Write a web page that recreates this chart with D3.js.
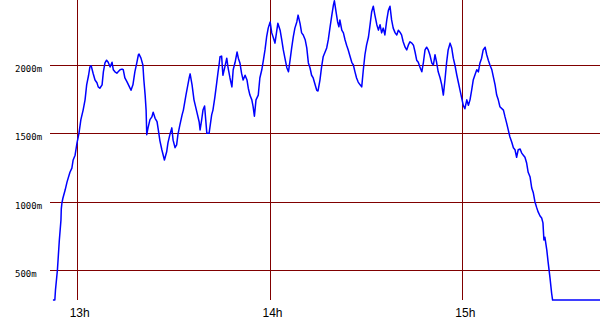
<!DOCTYPE html>
<html><head><meta charset="utf-8">
<script src="https://cdn.jsdelivr.net/npm/d3@7/dist/d3.min.js"></script>
<style>html,body{margin:0;padding:0;background:#fff;}svg{display:block;}</style>
</head><body>
<svg id="c" width="600" height="330"></svg>
<script>
// time in minutes after 12:00, elevation in metres
const times = [52.6,53.2,53.4,54.0,54.6,55.1,55.2,55.4,55.7,56.4,57.0,57.9,58.5,58.9,59.5,60.1,60.7,61.3,62.0,62.6,63.1,63.7,64.1,64.5,65.1,65.7,66.3,66.7,67.2,67.9,68.3,68.8,69.3,69.8,70.4,71.0,71.4,71.9,72.5,72.9,73.5,74.1,74.5,75.0,75.7,76.3,76.9,77.5,78.1,78.7,79.2,79.4,80.0,80.6,80.9,81.3,81.6,81.8,82.2,82.8,83.4,83.8,84.4,85.0,85.4,85.9,86.5,87.3,88.0,88.4,89.0,89.6,90.0,90.6,91.1,91.5,92.1,92.8,93.2,94.0,95.0,95.3,95.9,96.5,97.4,98.1,98.4,98.9,99.3,99.8,100.5,101.2,102.0,102.4,103.0,103.6,104.0,104.3,104.6,105.1,105.5,106.2,106.7,107.1,107.7,108.3,108.7,109.3,109.9,110.3,110.8,111.3,111.8,112.4,113.0,113.4,113.9,114.5,114.9,115.3,115.8,116.5,117.0,117.6,118.1,118.6,119.1,119.6,120.2,120.7,121.2,121.7,122.2,122.6,123.3,123.8,124.3,124.8,125.4,125.9,126.4,126.9,127.4,127.9,128.5,128.9,129.5,130.0,130.5,131.1,131.6,132.1,132.6,133.1,133.6,134.2,134.7,135.1,135.7,136.2,136.7,137.3,137.8,138.3,138.8,139.4,139.9,140.2,140.7,141.2,141.6,141.9,142.5,143.0,143.5,144.0,144.5,145.1,145.6,146.1,146.6,147.1,147.6,148.2,148.7,149.2,149.7,150.2,150.8,151.3,151.8,152.3,152.8,153.4,153.9,154.4,154.9,155.4,155.9,156.5,157.0,157.5,158.0,158.5,159.1,159.6,160.1,160.6,161.1,161.6,162.2,162.7,163.2,163.7,164.3,164.8,165.3,165.8,166.3,166.8,167.4,167.9,168.4,168.9,169.4,169.9,170.5,171.0,171.5,172.0,172.5,173.1,173.6,174.1,174.6,175.1,175.6,176.2,176.7,177.2,177.7,178.3,178.8,179.3,179.8,180.3,180.8,181.4,181.9,182.4,182.9,183.4,183.9,184.5,185.0,185.5,186.0,186.5,187.1,187.6,188.1,188.6,189.2,189.7,190.2,190.7,191.2,191.7,192.8,193.3,193.8,194.3,194.8,195.4,195.9,196.4,196.9,197.4,198.0,198.5,199.0,199.5,200.0,200.5,201.1,201.6,202.1,202.6,203.1,203.6,204.2,204.7,205.1,205.4,205.7,206.3,206.7,207.3,207.8,208.1,222.9];
const elevation = [280,280,355,500,720,865,945,990,1025,1085,1145,1215,1245,1305,1340,1430,1500,1600,1670,1745,1855,1925,1985,1995,1940,1890,1870,1840,1830,1855,1950,2015,2035,2020,1985,2020,1965,1950,1940,1950,1965,1970,1965,1905,1875,1845,1815,1855,1950,2015,2075,2080,2050,2000,1890,1780,1670,1490,1540,1600,1620,1655,1610,1585,1525,1445,1380,1305,1365,1430,1490,1540,1450,1395,1415,1490,1560,1635,1670,1780,1905,1935,1855,1745,1655,1585,1525,1600,1670,1700,1500,1500,1635,1670,1765,1875,1950,2000,2060,2065,1925,1995,2050,1980,1905,1840,1965,2020,2095,2050,2015,1940,1890,1925,1890,1830,1780,1745,1695,1625,1745,1780,1905,1965,2035,2110,2205,2270,2315,2235,2200,2160,2240,2305,2255,2185,2110,2050,1980,1950,2035,2125,2205,2270,2315,2365,2305,2235,2220,2185,2125,2015,1980,1925,1905,1855,1815,1810,1890,1985,2060,2095,2125,2185,2270,2365,2440,2470,2390,2315,2280,2330,2255,2235,2185,2145,2110,2060,2020,2000,1950,1905,1875,1855,1840,1965,2075,2145,2205,2295,2390,2430,2365,2295,2255,2295,2235,2270,2220,2330,2400,2430,2330,2270,2235,2220,2255,2240,2220,2170,2130,2110,2145,2170,2160,2145,2095,2035,2020,1985,1950,2020,2110,2130,2110,2075,2015,2000,2075,2020,1950,1905,1855,1780,1890,2015,2110,2160,2125,2050,2000,1925,1870,1815,1760,1705,1680,1745,1705,1745,1815,1890,1925,1965,1950,2015,2050,2110,2130,2075,2035,2000,1965,1910,1855,1780,1745,1695,1670,1620,1575,1525,1475,1435,1395,1380,1325,1380,1385,1355,1340,1325,1285,1215,1180,1100,1065,1000,960,925,895,880,845,720,740,645,560,440,330,280,280];
const yTicks = [500,1000,1500,2000];
const yTickLabels = ["500m","1000m","1500m","2000m"];
const xTicks = [60,120,180];
const xTickLabels = ["13h","14h","15h"];

const svg = d3.select("#c");
const x = d3.scaleLinear().domain([60,180]).range([76.7,462.3]);
const y = d3.scaleLinear().domain([500,2000]).range([270,65]);
const gridColor = "#800000";

// horizontal grid
svg.append("g").selectAll("line").data(yTicks).join("line")
  .attr("x1",50).attr("x2",600)
  .attr("y1",d=>Math.round(y(d))+0.5).attr("y2",d=>Math.round(y(d))+0.5)
  .attr("stroke",gridColor).attr("stroke-width",1).attr("shape-rendering","crispEdges");
// vertical grid
svg.append("g").selectAll("line").data(xTicks).join("line")
  .attr("x1",d=>Math.round(x(d))+0.5).attr("x2",d=>Math.round(x(d))+0.5)
  .attr("y1",0).attr("y2",300)
  .attr("stroke",gridColor).attr("stroke-width",1).attr("shape-rendering","crispEdges");

// y labels
svg.append("g").selectAll("text").data(yTicks).join("text")
  .attr("x",15).attr("y",d=>y(d)+7)
  .attr("font-family","DejaVu Sans Mono").attr("font-size",9)
  .attr("fill","#000")
  .text((d,i)=>yTickLabels[i]);
// x labels
svg.append("g").selectAll("text").data(xTicks).join("text")
  .attr("x",d=>x(d)+3).attr("y",317)
  .attr("text-anchor","middle")
  .attr("font-family","Liberation Sans").attr("font-size",12)
  .attr("fill","#000")
  .text((d,i)=>xTickLabels[i]);

// profile line
const pts = times.map((t,i)=>[t,elevation[i]]);
svg.append("path").datum(pts)
  .attr("fill","none").attr("stroke","#0000ff").attr("stroke-width",1.5)
  .attr("stroke-linejoin","round")
  .attr("d",d3.line().x(d=>x(d[0])).y(d=>y(d[1])));
</script>
</body></html>
